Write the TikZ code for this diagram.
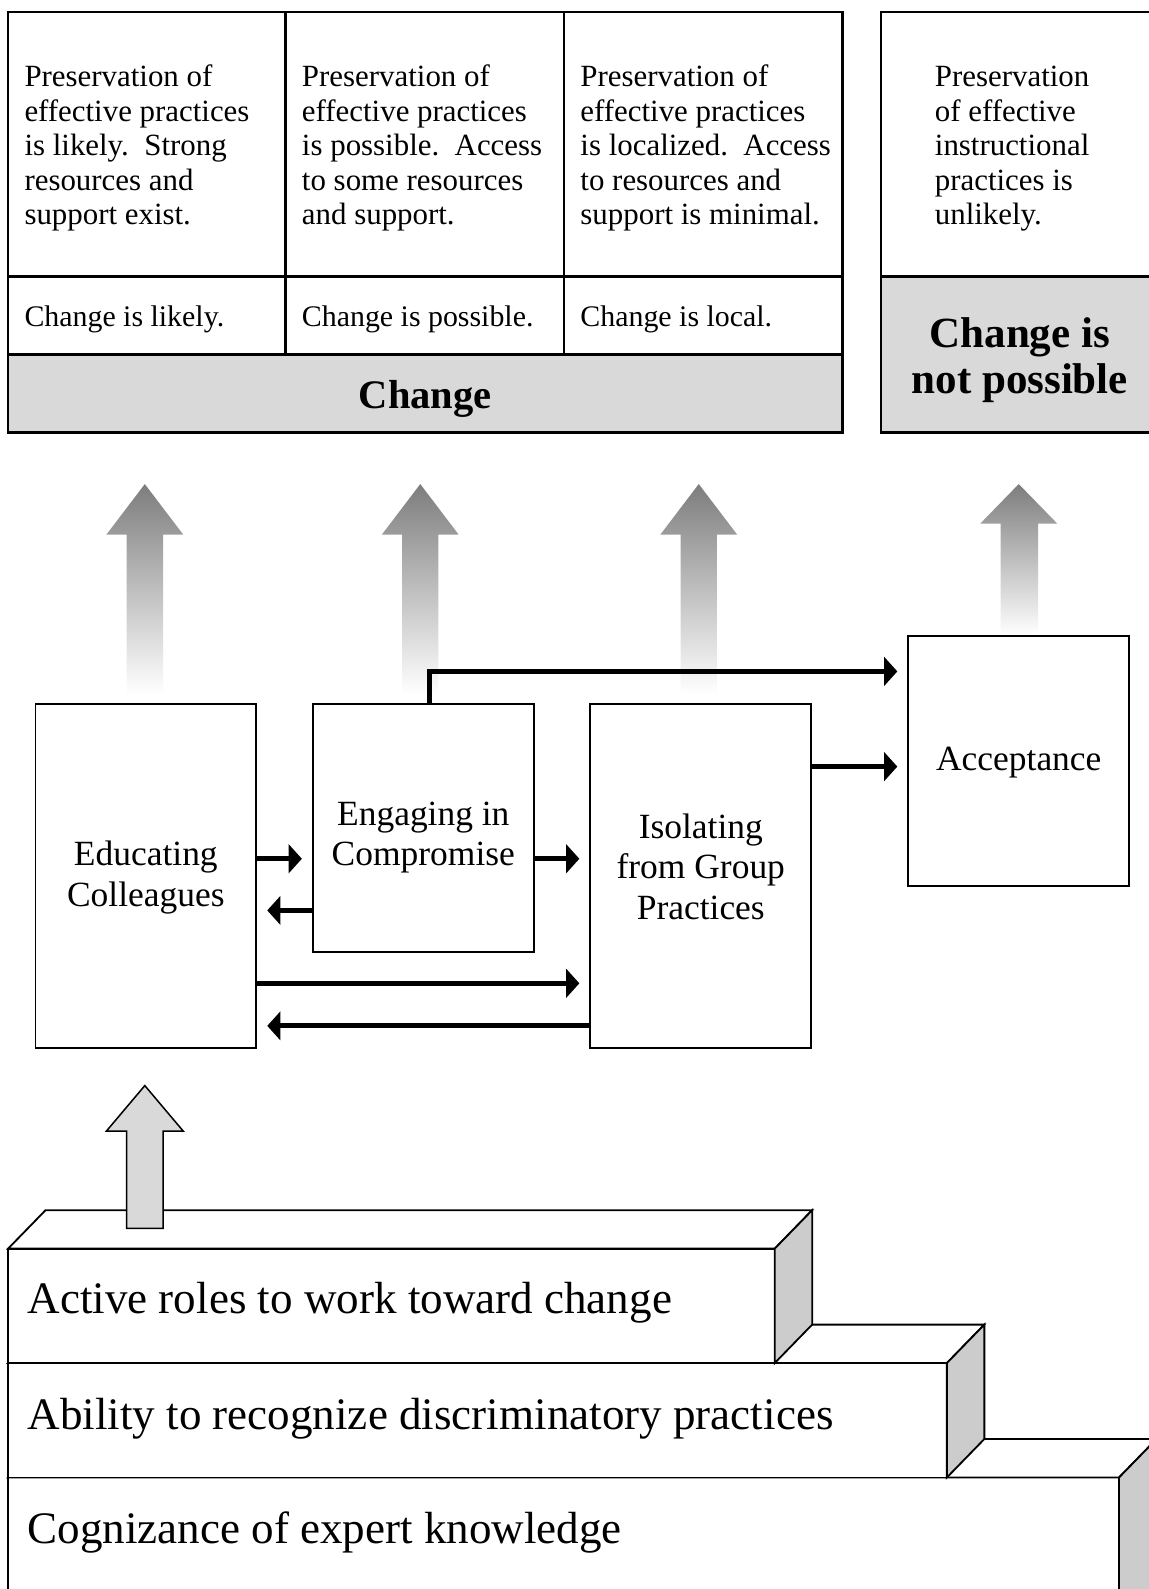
\documentclass[tikz,border=0pt]{standalone}
\usepackage{fontspec}
\setmainfont{Liberation Serif}
\usetikzlibrary{arrows.meta}
\definecolor{bandgray}{RGB}{217,217,217}
\definecolor{sidegray}{RGB}{204,204,204}
\definecolor{fadegray}{RGB}{125,125,125}
\begin{document}
\begin{tikzpicture}[x=1pt,y=-1pt,
  tabline/.style={line width=2.2pt},
  procbox/.style={draw, line width=1.8pt, minimum width=218pt, inner sep=0pt},
  celltxt/.style={anchor=north west, inner sep=0pt, align=left, font=\fontsize{30.5}{34}\selectfont},
  rowtxt/.style={anchor=base west, inner sep=0pt, font=\fontsize{29.5}{34}\selectfont},
  boxtxt/.style={anchor=north, inner sep=0pt, align=center, font=\fontsize{35}{40}\selectfont},
  conn/.style={line width=5pt, line join=miter, -{Triangle[length=13pt,width=28pt]}, shorten >=10pt},
  fadearrow/.style={top color=fadegray, bottom color=white, draw=none},
  stepfront/.style={draw, fill=white, line width=1.8pt, line join=miter},
  stepside/.style={draw, fill=sidegray, line width=1.8pt, line join=miter},
  steptxt/.style={anchor=base west, inner sep=0pt, font=\fontsize{44.5}{50}\selectfont}
]
\path[use as bounding box, clip] (0,0) rectangle (1134.6,1569.1);

% ---- top table ----
\fill[bandgray] (8,350) rectangle (832,427);
\draw[tabline] (8,12) rectangle (832,427);
\draw[tabline] (282,12) -- (282,350);
\draw[tabline] (557,12) -- (557,350);
\draw[tabline] (8,273) -- (832,273);
\draw[tabline] (8,350) -- (832,350);
\fill[bandgray] (870,273) rectangle (1145,427);
\draw[tabline] (1145,12) -- (870,12) -- (870,427) -- (1145,427);
\draw[tabline] (870,273) -- (1145,273);

\node[celltxt] (p1) at (24,61.8) {\strut Preservation of\\effective practices\\is likely.\ \ Strong\\resources and\\support exist.};
\node[celltxt] (p2) at (298,61.8) {\strut Preservation of\\effective practices\\is possible.\ \ Access\\to some resources\\and support.};
\node[celltxt] (p3) at (573,61.8) {\strut Preservation of\\effective practices\\is localized.\ \ Access\\to resources and\\support is minimal.};
\node[celltxt] (p4) at (923,61.8) {\strut Preservation\\of effective\\instructional\\practices is\\unlikely.};
\node[rowtxt] (c1) at (24,322) {Change is likely.};
\node[rowtxt] (c2) at (298,322) {Change is possible.};
\node[rowtxt] (c3) at (573,322) {Change is local.};
\node[anchor=base, inner sep=0pt, font=\fontsize{40}{45}\selectfont\bfseries] (chg) at (420,403) {Change};
\node[anchor=north, inner sep=0pt, align=center, font=\fontsize{42.5}{45}\selectfont\bfseries] (nochg) at (1007,311.5) {\strut Change is\\not possible};

% ---- fading arrows ----
\shade[fadearrow] (125,685) -- (125,528) -- (105,528) -- (143,478) -- (181,528) -- (161,528) -- (161,685) -- cycle;
\shade[fadearrow] (397,685) -- (397,528) -- (377,528) -- (415,478) -- (453,528) -- (433,528) -- (433,685) -- cycle;
\shade[fadearrow] (672,685) -- (672,528) -- (652,528) -- (690,478) -- (728,528) -- (708,528) -- (708,685) -- cycle;
\shade[fadearrow] (988,627) -- (988,517) -- (968,517) -- (1006,478) -- (1044,517) -- (1025,517) -- (1025,627) -- cycle;

% ---- process boxes ----
\node[procbox, minimum height=340pt] (edu) at (144,865) {};
\node[procbox, minimum height=245pt] (eng) at (418,817.5) {};
\node[procbox, minimum height=340pt] (iso) at (692,865) {};
\node[procbox, minimum height=247pt] (acc) at (1006,751.5) {};
\node[boxtxt] (edut) at (144,826.5) {\strut Educating\\Colleagues};
\node[boxtxt] (engt) at (418,786.5) {\strut Engaging in\\Compromise};
\node[boxtxt] (isot) at (692,799.5) {\strut Isolating\\from Group\\Practices};
\node[anchor=base, inner sep=0pt, font=\fontsize{35}{40}\selectfont] (acct) at (1006,760.5) {Acceptance};

% ---- connectors ----
\draw[conn] (edu.east |- 0,848) -- (eng.west |- 0,848);
\draw[conn] (eng.west |- 0,899) -- (edu.east |- 0,899);
\draw[conn] (eng.east |- 0,848) -- (iso.west |- 0,848);
\draw[conn] (edu.east |- 0,971) -- (iso.west |- 0,971);
\draw[conn] (iso.west |- 0,1013) -- (edu.east |- 0,1013);
\draw[conn] (eng.north -| 424,0) -- (424,663) -- (acc.west |- 0,663);
\draw[conn] (iso.east |- 0,757) -- (acc.west |- 0,757);

% ---- stairs ----
\draw[stepfront] (8,1459) -- (1105,1459) -- (1105,1620) -- (8,1620) -- cycle;
\draw[stepfront] (8,1459) -- (45,1421) -- (1142,1421) -- (1105,1459) -- cycle;
\draw[stepside] (1105,1459) -- (1142,1421) -- (1142,1620) -- (1105,1640) -- cycle;
\draw[stepfront] (8,1346) rectangle (935,1459);
\draw[stepfront] (8,1346) -- (45,1308) -- (972,1308) -- (935,1346) -- cycle;
\draw[stepside] (935,1346) -- (972,1308) -- (972,1421) -- (935,1459) -- cycle;
\draw[stepfront] (8,1233) rectangle (765,1346);
\draw[stepfront] (8,1233) -- (45,1195) -- (802,1195) -- (765,1233) -- cycle;
\draw[stepside] (765,1233) -- (802,1195) -- (802,1308) -- (765,1346) -- cycle;

\draw[line width=1.5pt, fill=bandgray, line join=miter] (125,1213) -- (125,1117) -- (105,1117) -- (143,1072) -- (181,1117) -- (161,1117) -- (161,1213) -- cycle;

\node[steptxt] (s1) at (27,1297) {Active roles to work toward change};
\node[steptxt] (s2) at (27,1412) {Ability to recognize discriminatory practices};
\node[steptxt] (s3) at (27,1524) {Cognizance of expert knowledge};
\end{tikzpicture}
\end{document}
